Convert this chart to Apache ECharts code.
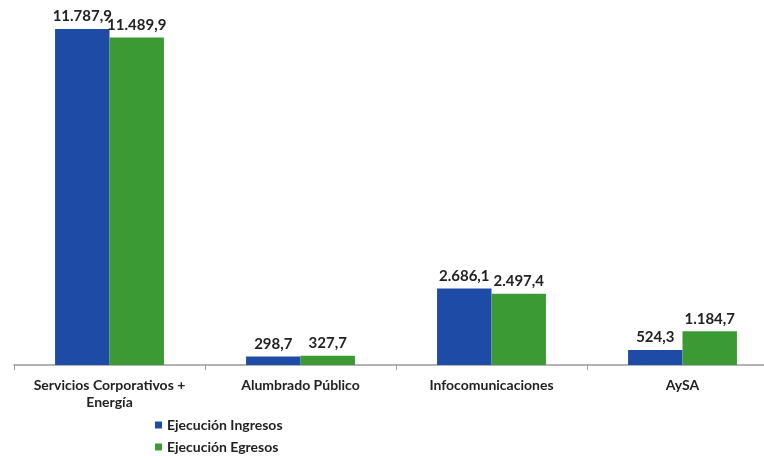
<!DOCTYPE html>
<html><head><meta charset="utf-8">
<script src="https://cdn.jsdelivr.net/npm/echarts@6/dist/echarts.min.js"></script>
<style>html,body{margin:0;padding:0;background:#fff}#c{width:764px;height:456px}</style>
</head><body><div id="c"></div>
<script>
const categories = ['Servicios Corporativos +\nEnergía', 'Alumbrado Público', 'Infocomunicaciones', 'AySA'];
const ingresos = [11787.9, 298.7, 2686.1, 524.3];
const egresos = [11489.9, 327.7, 2497.4, 1184.7];
const seriesNames = ['Ejecución Ingresos', 'Ejecución Egresos'];

const fmt = v => {
  const [i, d] = v.toFixed(1).split('.');
  return i.replace(/\B(?=(\d{3})+(?!\d))/g, '.') + ',' + d;
};
const font = 'Lato, "Open Sans", sans-serif';
const chart = echarts.init(document.getElementById('c'));
chart.setOption({
  animation: false,
  grid: { left: 14, width: 764, top: 23, bottom: 91, outerBoundsMode: 'none', containLabel: false },
  legend: {
    orient: 'vertical', left: 155, top: 417, padding: 0,
    itemWidth: 7, itemHeight: 7, itemGap: 6,
    icon: 'rect',
    textStyle: { fontFamily: font, fontWeight: 'bold', fontSize: 14, color: '#222', lineHeight: 16 },
    data: seriesNames
  },
  xAxis: {
    type: 'category', data: categories,
    axisLine: { lineStyle: { color: '#9a9a9a', width: 1.5 } },
    axisTick: { show: true, length: 5, lineStyle: { color: '#9a9a9a' } },
    axisLabel: { fontFamily: font, fontWeight: 'bold', fontSize: 14, color: '#222', margin: 12, lineHeight: 17, interval: 0 }
  },
  yAxis: { type: 'value', min: 0, max: 12000, show: false, splitLine: { show: false } },
  series: [
    { name: seriesNames[0], type: 'bar', data: ingresos, barGap: '0%', barCategoryGap: '43%',
      itemStyle: { color: '#1E4BA6' },
      label: { show: true, position: 'top', distance: 5, formatter: p => fmt(p.value), fontFamily: font, fontWeight: 'bold', fontSize: 15, color: '#222' } },
    { name: seriesNames[1], type: 'bar', data: egresos,
      itemStyle: { color: '#3C9A34' },
      label: { show: true, position: 'top', distance: 5, formatter: p => fmt(p.value), fontFamily: font, fontWeight: 'bold', fontSize: 15, color: '#222' } }
  ]
});
</script></body></html>
